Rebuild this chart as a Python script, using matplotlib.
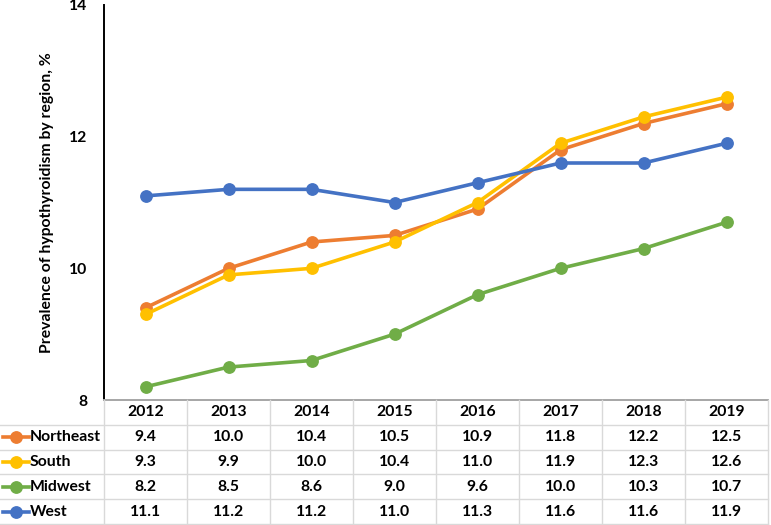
import matplotlib
matplotlib.use("Agg")
import matplotlib.pyplot as plt
from matplotlib.lines import Line2D

years = ["2012", "2013", "2014", "2015", "2016", "2017", "2018", "2019"]
regions = ["Northeast", "South", "Midwest", "West"]
northeast = [9.4, 10.0, 10.4, 10.5, 10.9, 11.8, 12.2, 12.5]
south = [9.3, 9.9, 10.0, 10.4, 11.0, 11.9, 12.3, 12.6]
midwest = [8.2, 8.5, 8.6, 9.0, 9.6, 10.0, 10.3, 10.7]
west = [11.1, 11.2, 11.2, 11.0, 11.3, 11.6, 11.6, 11.9]
series = [northeast, south, midwest, west]
colors = ["#ED7D31", "#FFC000", "#70AD47", "#4472C4"]
yticks = [8, 10, 12, 14]

plt.rcParams['font.family'] = ['Lato', 'DejaVu Sans']
FS = 11.3

W, H = 771, 525
fig = plt.figure(figsize=(W / 100, H / 100), dpi=100)
left = 104 / W
width = (768 - 104) / W
ax = fig.add_axes([left, (H - 400) / H, width, (400 - 5) / H])
xs = list(range(len(years)))
for vals, c in zip(series, colors):
    ax.plot(xs, vals, color=c, lw=2.6, marker="o", ms=8.2, zorder=3)
ax.set_xlim(-0.5, len(years) - 0.5)
ax.set_ylim(8, 14)
ax.set_yticks(yticks)
ax.set_yticklabels([str(t) for t in yticks], fontsize=FS, fontweight="bold")
ax.set_xticks([])
ax.tick_params(axis="y", length=0, pad=12)
for s in ["top", "right"]:
    ax.spines[s].set_visible(False)
ax.spines["left"].set_color("black")
ax.spines["left"].set_linewidth(1.4)
ax.spines["bottom"].set_color("#A6A6A6")
ax.spines["bottom"].set_linewidth(1.4)
ax.set_ylabel("Prevalence of hypothyroidism by region, %", fontsize=FS,
              fontweight="bold", labelpad=11)

# data table
tax = fig.add_axes([left, 1 / H, width, 124 / H])
tax.set_xlim(-0.5, len(years) - 0.5)
tax.set_ylim(5, 0)
tax.axis("off")
grid = "#D9D9D9"
unit_px = (768 - 104) / len(years)
xleft = -0.5 - 104 / unit_px
for r in range(1, 6):
    tax.add_line(Line2D([xleft, len(years) - 0.5], [r, r], color=grid, lw=1, clip_on=False))
for c in range(len(years) + 1):
    tax.add_line(Line2D([c - 0.5, c - 0.5], [0, 5], color=grid, lw=1, clip_on=False))
for i, y in enumerate(years):
    tax.text(i, 0.5, y, ha="center", va="center", fontsize=FS, fontweight="bold")
for r, (name, vals, c) in enumerate(zip(regions, series, colors)):
    yy = r + 1.5
    x0 = xleft + 3 / unit_px
    x1 = xleft + 29 / unit_px
    tax.add_line(Line2D([x0, x1], [yy, yy], color=c, lw=2.6, clip_on=False))
    tax.add_line(Line2D([(x0 + x1) / 2], [yy], color=c, marker="o", ms=8.2, clip_on=False))
    tax.text(xleft + 30 / unit_px, yy, name, ha="left", va="center", fontsize=FS,
             fontweight="bold", clip_on=False)
    for i, v in enumerate(vals):
        tax.text(i, yy, f"{v:.1f}", ha="center", va="center", fontsize=FS, fontweight="bold")

fig.savefig("out.png", dpi=100)
